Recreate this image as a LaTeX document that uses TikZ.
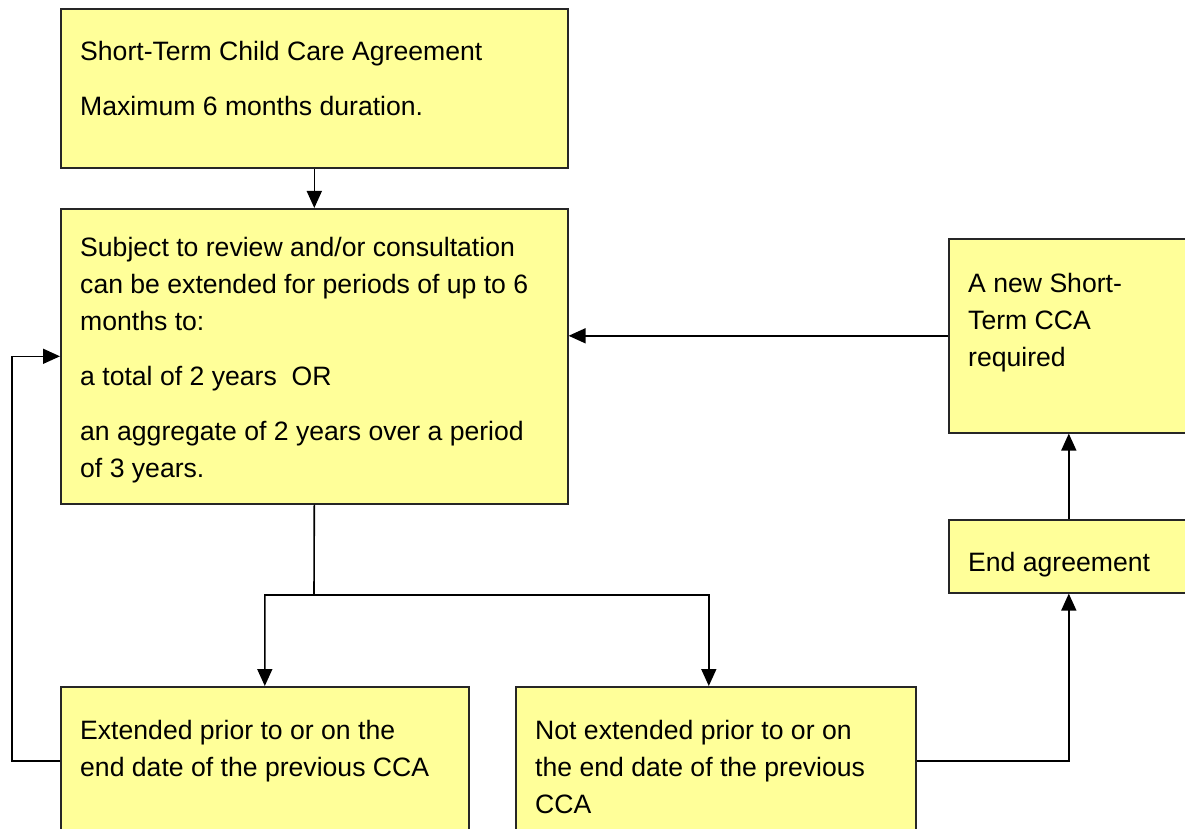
\documentclass[tikz,border=0pt]{standalone}
\usepackage{fontspec}
\setmainfont{Liberation Sans}
\usetikzlibrary{arrows.meta}
\definecolor{boxyellow}{HTML}{FFFF99}

\begin{document}
\begin{tikzpicture}[x=1pt,y=-1pt,>={Triangle[length=17pt,width=15pt]}]
        \tikzstyle{stage}=[rectangle,draw=black!85,line width=1.6pt,fill=boxyellow,anchor=north west,inner sep=0pt]
        \tikzstyle{words}=[anchor=north west,align=left,inner sep=0pt,font=\fontsize{26.6}{37}\selectfont]
        \tikzstyle{edge}=[draw=black,line width=1.6pt]

        \useasboundingbox (0,0) rectangle (1185,829);
        \clip (0,0) rectangle (1185,829);

       \begin{scope}

         \node [stage,minimum width=507,minimum height=159] (agree) at (60,8) {};
         \node [stage,minimum width=507,minimum height=295] (review) at (60,208) {};
         \node [stage,minimum width=240,minimum height=194] (newcca) at (948,238) {};
         \node [stage,minimum width=240,minimum height=73] (endag) at (948,519) {};
         \node [stage,minimum width=408,minimum height=148] (ext) at (60,686) {};
         \node [stage,minimum width=400,minimum height=148] (noext) at (515,686) {};

         \node [words] (agreetxt) at ([xshift=20pt,yshift=-33pt]agree.north west)
           {Short-Term Child Care Agreement\\[18pt]Maximum 6 months duration.};
         \node [words] (reviewtxt) at ([xshift=20pt,yshift=-29pt]review.north west)
           {Subject to review and/or consultation\\can be extended for periods of up to 6\\months to:\\[18pt]a total of 2 years\ \ OR\\[18pt]an aggregate of 2 years over a period\\of 3 years.};
         \node [words] (newccatxt) at ([xshift=20pt,yshift=-35pt]newcca.north west)
           {A new Short-\\Term CCA\\required};
         \node [words] (endagtxt) at ([xshift=20pt,yshift=-33pt]endag.north west) {End agreement};
         \node [words] (exttxt) at ([xshift=20pt,yshift=-34pt]ext.north west)
           {Extended prior to or on the\\end date of the previous CCA};
         \node [words] (noexttxt) at ([xshift=20pt,yshift=-34pt]noext.north west)
           {Not extended prior to or on\\the end date of the previous\\CCA};

         \coordinate (split) at (314,595);

 		\path[edge,->] (agree.south) -- (review.north);
 		\path[edge,->] (review.south) -- (split) -| (ext.north);
 		\path[edge,->] (split) -| ([xshift=-7pt]noext.north);
 		\path[edge,->] (ext.west) -- ++(-48,0) |- (review.west);
 		\path[edge,->] (newcca.west) -- (newcca.west -| review.east);
 		\path[edge,->] (noext.east) -| (endag.south);
 		\path[edge,->] (endag.north) -- (newcca.south);

        \end{scope}
      \end{tikzpicture}
\end{document}
